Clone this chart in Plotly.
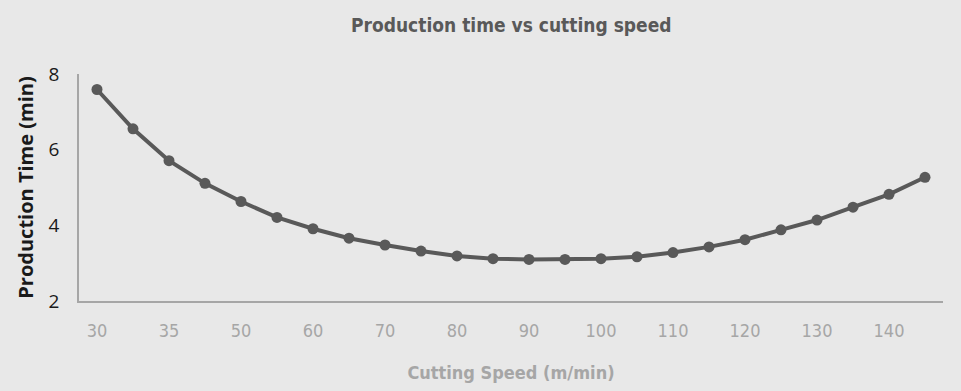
import plotly.graph_objects as go

speeds = ["30", "33", "35", "40", "50", "55", "60", "65", "70", "75", "80", "85",
          "90", "95", "100", "105", "110", "115", "120", "125", "130", "135", "140", "145"]
prod_time = [7.59, 6.55, 5.71, 5.11, 4.63, 4.21, 3.91, 3.66, 3.48, 3.32, 3.19, 3.12,
             3.10, 3.10, 3.12, 3.17, 3.28, 3.43, 3.62, 3.88, 4.14, 4.48, 4.82, 5.27]
y_ticks = [2, 4, 6, 8]

narrow = "Liberation Sans Narrow, DejaVu Sans Condensed, Roboto Condensed, sans-serif"

fig = go.Figure(go.Scatter(
    x=speeds, y=prod_time, mode="lines+markers",
    line=dict(color="#595959", width=4),
    marker=dict(color="#595959", size=11),
))

fig.update_layout(
    width=961, height=391,
    paper_bgcolor="#e8e8e8", plot_bgcolor="#e8e8e8",
    margin=dict(l=79, r=18, t=74, b=90),
    showlegend=False,
    title=dict(text="<b>Production time vs cutting speed</b>", x=0.532, xanchor="center",
               y=0.935, yanchor="middle",
               font=dict(family=narrow, size=19, color="#595959")),
)
fig.update_xaxes(
    type="category", range=[-0.5, 23.5], automargin=False,
    tickmode="array", tickvals=speeds[::2], ticktext=speeds[::2],
    showline=True, linecolor="#a6a6a6", linewidth=1.5,
    showgrid=False, zeroline=False, ticks="",
    tickfont=dict(family=narrow, size=18, color="#a6a6a6"),
    ticklabelstandoff=13,
    title=dict(text="<b>Cutting Speed (m/min)</b>", standoff=26,
               font=dict(family=narrow, size=18, color="#a6a6a6")),
)
fig.update_yaxes(
    range=[2, 8], tickvals=y_ticks, automargin=False,
    showline=True, linecolor="#a6a6a6", linewidth=1.5,
    showgrid=False, zeroline=False, ticks="",
    tickfont=dict(family="Open Sans, sans-serif", size=19, color="#1a1a1a"),
    ticklabelstandoff=14,
    title=dict(text="<b>Production Time (min)</b>", standoff=10,
               font=dict(family="Open Sans, sans-serif", size=20, color="#1a1a1a")),
)

fig.write_html("out.html", config={"displayModeBar": False},
               post_script="document.body.style.margin='0';")
